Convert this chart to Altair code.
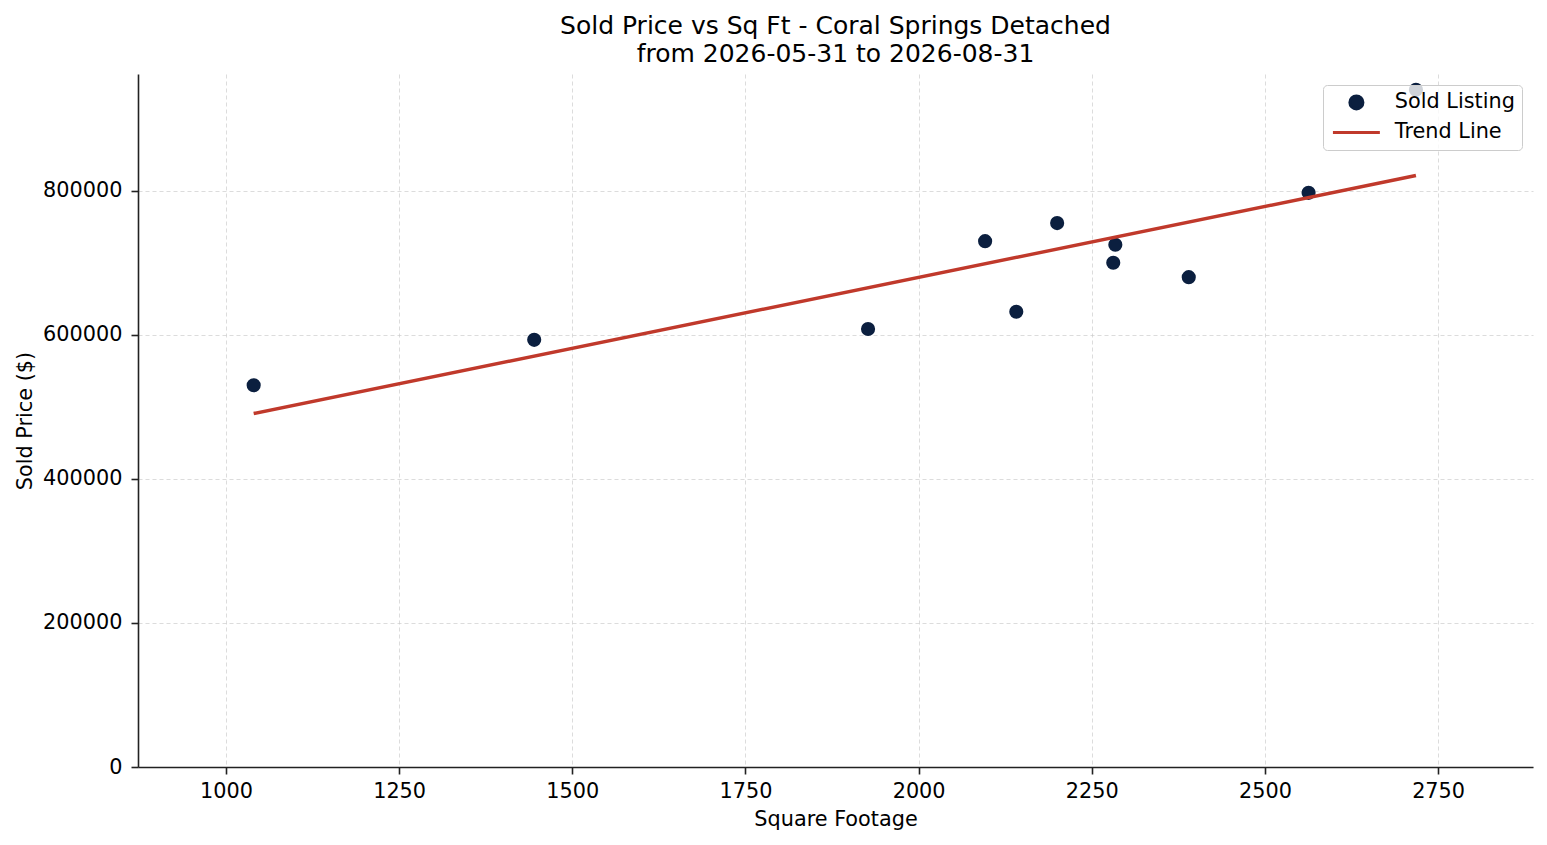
import altair as alt
import pandas as pd

sqft = [1040, 1445, 1927, 2096, 2141, 2200, 2281, 2284, 2390, 2563, 2718]
price = [530000, 593000, 608000, 730000, 632000, 755000, 700000, 725000, 680000, 797000, 940000]
series_names = ["Sold Listing", "Trend Line"]
x_ticks = [1000, 1250, 1500, 1750, 2000, 2250, 2500, 2750]
y_ticks = [0, 200000, 400000, 600000, 800000]

POINT_C = "#0b1f3f"
LINE_C = "#c0392b"
FONT = "DejaVu Sans"
FS = 20.8

df = pd.DataFrame({"sqft": sqft, "price": price, "series": "Sold Listing"})

xs = alt.Scale(domain=[873, 2887], nice=False, zero=False)
ys = alt.Scale(domain=[0, 962000], nice=False)

xenc = alt.X("sqft:Q", scale=xs, title="Square Footage",
             axis=alt.Axis(values=x_ticks, format="d"))
yenc = alt.Y("price:Q", scale=ys, title="Sold Price ($)",
             axis=alt.Axis(values=y_ticks, format="d"))

leg = alt.Legend(title=None, orient="top-right", offset=11)

points = alt.Chart(df).mark_point(filled=True, opacity=1, strokeWidth=0, size=200).encode(
    x=xenc, y=yenc,
    color=alt.Color("series:N", scale=alt.Scale(domain=series_names, range=[POINT_C, LINE_C]), legend=leg),
    stroke=alt.Stroke("series:N", scale=alt.Scale(domain=series_names, range=[POINT_C, LINE_C]), legend=leg),
    shape=alt.Shape("series:N", scale=alt.Scale(domain=series_names, range=["circle", "M-3.6,0H3.6"]), legend=leg),
)

trend = alt.Chart(df).transform_regression("sqft", "price").mark_line(
    color=LINE_C, strokeWidth=3.5
).encode(x=xenc, y=yenc)

chart = alt.layer(points, trend).properties(
    width=1395, height=693,
    title=alt.Title(["Sold Price vs Sq Ft - Coral Springs Detached", "from 2026-05-31 to 2026-08-31"],
                    fontSize=25, font=FONT, fontWeight="normal", color="#000000",
                    lineHeight=28, offset=7, anchor="middle"),
    autosize=alt.AutoSizeParams(type="none"),
    padding={"left": 130, "top": 66, "right": 6, "bottom": 70},
).configure_view(stroke=None).configure_axis(
    labelFont=FONT, titleFont=FONT, labelFontSize=FS, titleFontSize=FS,
    labelColor="#000000", titleColor="#000000", titleFontWeight="normal",
    domainColor="#222222", domainWidth=1.6, tickColor="#222222", tickWidth=1.6, tickSize=7,
    gridColor="#c8c8c8", gridDash=[4, 3], gridWidth=0.8, gridOpacity=0.8,
).configure_axisY(labelPadding=9, titlePadding=7).configure_axisX(labelPadding=7, titlePadding=9).configure_legend(
    labelFont=FONT, labelFontSize=FS, labelColor="#000000",
    fillColor="rgba(255,255,255,0.8)", strokeColor="#cccccc", cornerRadius=4,
    padding=7, symbolStrokeWidth=3, symbolSize=170, symbolOffset=16, labelOffset=28,
    rowPadding=6, symbolOpacity=1,
)

chart.save("out.html", embed_options={"renderer": "svg", "actions": False})
